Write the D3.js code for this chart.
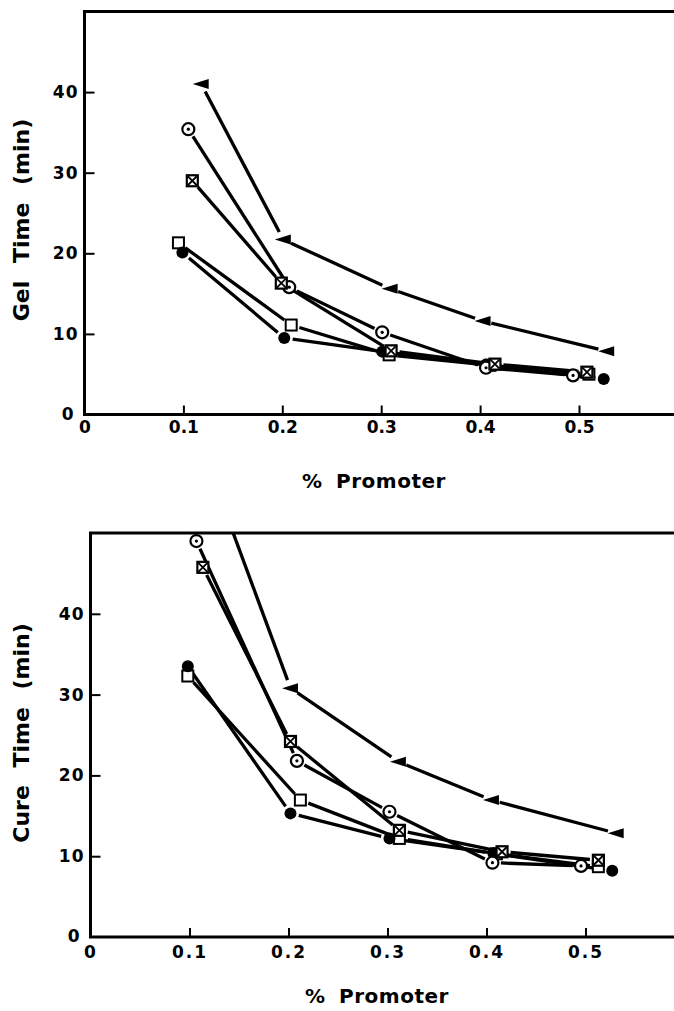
<!DOCTYPE html>
<html>
<head>
<meta charset="utf-8">
<script src="https://cdn.jsdelivr.net/npm/d3@7"></script>
<style>
  body { margin: 0; background: #fff; }
  svg text { font-family: "DejaVu Sans", sans-serif; font-weight: bold; fill: #000; }
</style>
</head>
<body>
<div id="chart"></div>
<script>
// Tick values shared by both panels.
const promoterTicks = [0, 0.1, 0.2, 0.3, 0.4, 0.5];
const timeTicks = [10, 20, 30, 40];

// Gel time panel, one pair of arrays per marker type.
const gelTriX = [0.118, 0.201, 0.309, 0.403, 0.528];
const gelTriY = [41.0, 21.7, 15.6, 11.6, 7.85];
const gelDotX = [0.105, 0.207, 0.301, 0.406, 0.494];
const gelDotY = [35.4, 15.8, 10.2, 5.8, 4.85];
const gelXsqX = [0.109, 0.199, 0.31, 0.415, 0.508];
const gelXsqY = [29.0, 16.3, 7.9, 6.25, 5.25];
const gelSqX = [0.095, 0.209, 0.308, 0.41, 0.51];
const gelSqY = [21.3, 11.1, 7.4, 6.1, 5.0];
const gelFillX = [0.099, 0.202, 0.301, 0.406, 0.525];
const gelFillY = [20.1, 9.5, 7.8, 6.2, 4.4];

// Cure time panel.
const cureTriX = [0.12, 0.202, 0.311, 0.405, 0.531];
const cureTriY = [58, 30.8, 21.7, 16.95, 12.85];
const cureDotX = [0.107, 0.2085, 0.302, 0.406, 0.4955];
const cureDotY = [49.0, 21.8, 15.5, 9.2, 8.8];
const cureXsqX = [0.1135, 0.202, 0.312, 0.4157, 0.513];
const cureXsqY = [45.75, 24.2, 13.2, 10.55, 9.5];
const cureSqX = [0.0983, 0.212, 0.312, 0.41, 0.513];
const cureSqY = [32.3, 16.95, 12.2, 10.3, 8.7];
const cureFillX = [0.0983, 0.202, 0.302, 0.407, 0.527];
const cureFillY = [33.5, 15.3, 12.2, 10.35, 8.2];

const W = 674, H = 1011;

const svg = d3.select("#chart").append("svg")
  .attr("width", W)
  .attr("height", H);

function zip(xs, ys) {
  return xs.map((x, i) => ({ x: x, y: ys[i] }));
}

function drawPanel(opt) {
  const x = d3.scaleLinear().domain([0, 0.6]).range([opt.left, opt.left + 6 * opt.step]);
  const y = d3.scaleLinear().domain([0, 50]).range([opt.bottom, opt.top]);

  const g = svg.append("g");

  const clipId = "clip" + opt.id;
  g.append("clipPath").attr("id", clipId)
    .append("rect")
    .attr("x", x(0)).attr("y", y(50))
    .attr("width", x(0.6) - x(0)).attr("height", y(0) - y(50));

  // Axes: ticks point inward, domain replaced by the frame below.
  const xAxis = g.append("g")
    .attr("transform", "translate(0," + y(0) + ")")
    .call(d3.axisBottom(x).tickValues(promoterTicks).tickSize(-9)
      .tickPadding(opt.xPad).tickFormat(d => d === 0 ? "0" : d3.format(".1f")(d)));
  xAxis.select(".domain").remove();
  xAxis.selectAll("line").attr("stroke", "#000").attr("stroke-width", 2);
  xAxis.selectAll("text").style("font-size", "17px")
    .style("letter-spacing", opt.xSpacing + "px");

  const yAxis = g.append("g")
    .attr("transform", "translate(" + x(0) + ",0)")
    .call(d3.axisLeft(y).tickValues(timeTicks).tickSize(-10).tickPadding(6));
  yAxis.select(".domain").remove();
  yAxis.selectAll("line").attr("stroke", "#000").attr("stroke-width", 2);
  yAxis.selectAll("text").style("font-size", "17px").style("letter-spacing", "1px");

  // The zero on the time axis sits a little apart from the others.
  g.append("text")
    .attr("x", x(0) - 11).attr("y", y(0) + 5)
    .attr("text-anchor", "end")
    .style("font-size", "17px")
    .text("0");

  // Frame
  g.append("rect")
    .attr("x", x(0)).attr("y", y(50))
    .attr("width", x(0.6) - x(0)).attr("height", y(0) - y(50))
    .attr("fill", "none").attr("stroke", "#000").attr("stroke-width", 3);

  // Axis titles
  g.append("text")
    .attr("transform", "translate(" + opt.titleX + "," + opt.titleY + ") rotate(-90)")
    .attr("text-anchor", "middle")
    .style("font-size", "22px")
    .style("word-spacing", "10px")
    .text(opt.yTitle);

  g.append("text")
    .attr("x", opt.xTitleX).attr("y", opt.xTitleY)
    .attr("text-anchor", "middle")
    .style("font-size", "20px")
    .style("word-spacing", "6px")
    .style("letter-spacing", "0.5px")
    .text("% Promoter");

  const plot = g.append("g").attr("clip-path", "url(#" + clipId + ")");

  // Lines stop short of the markers, as in the original drawing.
  const gap = 8.5;
  opt.series.forEach(s => {
    const pts = s.data.map(d => [x(d.x), y(d.y)]);
    for (let i = 0; i < pts.length - 1; i++) {
      const a = pts[i], b = pts[i + 1];
      const dx = b[0] - a[0], dy = b[1] - a[1];
      const len = Math.sqrt(dx * dx + dy * dy);
      if (len <= 2 * gap) continue;
      const ux = dx / len, uy = dy / len;
      plot.append("line")
        .attr("x1", a[0] + ux * gap).attr("y1", a[1] + uy * gap)
        .attr("x2", b[0] - ux * gap).attr("y2", b[1] - uy * gap)
        .attr("stroke", "#000").attr("stroke-width", 3.3)
        .attr("stroke-linecap", "butt");
    }
  });

  opt.series.forEach(s => {
    const m = plot.selectAll(null).data(s.data).enter().append("g")
      .attr("transform", d => "translate(" + x(d.x) + "," + y(d.y) + ")");
    drawMarker(m, s.shape);
  });
}

function drawMarker(m, shape) {
  if (shape === "tri") {
    m.append("polygon").attr("points", "-8.5,0 7.5,-5 7.5,5").attr("fill", "#000");
  } else if (shape === "dot") {
    m.append("circle").attr("r", 6).attr("fill", "#fff")
      .attr("stroke", "#000").attr("stroke-width", 2.2);
    m.append("circle").attr("r", 1.6).attr("fill", "#000");
  } else if (shape === "xsq") {
    m.append("rect").attr("x", -5.5).attr("y", -5.5).attr("width", 11).attr("height", 11)
      .attr("fill", "#fff").attr("stroke", "#000").attr("stroke-width", 2.2);
    m.append("path").attr("d", "M-4.5,-4.5L4.5,4.5M4.5,-4.5L-4.5,4.5")
      .attr("stroke", "#000").attr("stroke-width", 1.8);
  } else if (shape === "sq") {
    m.append("rect").attr("x", -5.5).attr("y", -5.5).attr("width", 11).attr("height", 11)
      .attr("fill", "#fff").attr("stroke", "#000").attr("stroke-width", 2);
  } else {
    m.append("circle").attr("r", 6).attr("fill", "#000");
  }
}

drawPanel({
  id: "gel",
  left: 84.5, step: 98.9, bottom: 414.5, top: 11.5,
  xPad: 6, xSpacing: 0,
  titleX: 29, titleY: 220, yTitle: "Gel Time (min)",
  xTitleX: 374, xTitleY: 488,
  series: [
    { shape: "sq", data: zip(gelSqX, gelSqY) },
    { shape: "fill", data: zip(gelFillX, gelFillY) },
    { shape: "dot", data: zip(gelDotX, gelDotY) },
    { shape: "xsq", data: zip(gelXsqX, gelXsqY) },
    { shape: "tri", data: zip(gelTriX, gelTriY) }
  ]
});

drawPanel({
  id: "cure",
  left: 90.5, step: 99, bottom: 937, top: 533,
  xPad: 9, xSpacing: 2,
  titleX: 29, titleY: 733, yTitle: "Cure Time (min)",
  xTitleX: 377, xTitleY: 1003,
  series: [
    { shape: "sq", data: zip(cureSqX, cureSqY) },
    { shape: "fill", data: zip(cureFillX, cureFillY) },
    { shape: "dot", data: zip(cureDotX, cureDotY) },
    { shape: "xsq", data: zip(cureXsqX, cureXsqY) },
    { shape: "tri", data: zip(cureTriX, cureTriY) }
  ]
});
</script>
</body>
</html>
